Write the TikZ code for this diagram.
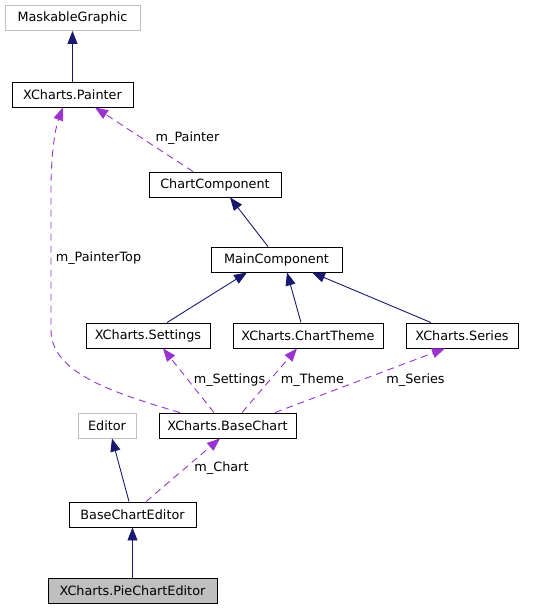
\documentclass[tikz,border=0pt]{standalone}
\usepackage{fontspec}
\setmainfont{DejaVu Sans}
\usetikzlibrary{arrows.meta}
\definecolor{inh}{HTML}{191970}
\definecolor{usec}{HTML}{9A32CD}
\definecolor{extc}{HTML}{BFBFBF}
\begin{document}
\begin{tikzpicture}[x=1pt,y=-1pt,
  font=\fontsize{12.8}{15}\selectfont,
  cls/.style={draw=black, line width=0.9pt, rectangle, minimum height=25pt, inner sep=0pt, anchor=center},
  extcls/.style={cls, draw=extc},
  inhe/.style={draw=inh, line width=0.9pt, -{Triangle[length=13pt,width=10pt]}},
  usee/.style={draw=usec, line width=0.9pt, dash pattern=on 7pt off 5pt, -{Triangle[length=13pt,width=10pt]}},
  lbl/.style={inner sep=0pt, anchor=center}]
\useasboundingbox (0,0) rectangle (544,609);

% nodes
\node[extcls, minimum width=135pt] (mg) at (72.5,18) {MaskableGraphic};
\node[cls, minimum width=121pt] (painter) at (72.5,94.5) {XCharts.Painter};
\node[cls, minimum width=132pt] (cc) at (215,184.5) {ChartComponent};
\node[cls, minimum width=131pt] (mc) at (276.5,259.5) {MainComponent};
\node[cls, minimum width=124pt] (set) at (148,335.5) {XCharts.Settings};
\node[cls, minimum width=150pt] (theme) at (308,335.5) {XCharts.ChartTheme};
\node[cls, minimum width=112pt] (series) at (462,335.5) {XCharts.Series};
\node[extcls, minimum width=58pt] (editor) at (107,425.5) {Editor};
\node[cls, minimum width=137pt] (bc) at (227.5,425.5) {XCharts.BaseChart};
\node[cls, minimum width=127pt] (bce) at (132.5,514.5) {BaseChartEditor};
\node[cls, minimum width=169pt, fill=extc] (pce) at (132.5,590.5) {XCharts.PieChartEditor};

% inheritance
\draw[inhe] (painter.north) -- (mg.south);
\draw[inhe] ([xshift=-8.5pt]mc.north) -- ([xshift=15pt]cc.south);
\draw[inhe] ([xshift=19pt]set.north) -- ([xshift=-29.5pt]mc.south);
\draw[inhe] ([xshift=-7pt]theme.north) -- ([xshift=10.5pt]mc.south);
\draw[inhe] ([xshift=-31pt]series.north) -- ([xshift=35.5pt]mc.south);
\draw[inhe] ([xshift=-3.5pt]bce.north) -- ([xshift=5pt]editor.south);
\draw[inhe] (pce.north) -- (bce.south);

% usage
\draw[usee] ([xshift=-22pt]cc.north) -- ([xshift=22.5pt]painter.south);
\draw[usee] ([xshift=-13.5pt]bc.north) -- ([xshift=15pt]set.south);
\draw[usee] ([xshift=14.5pt]bc.north) -- ([xshift=-11pt]theme.south);
\draw[usee] ([xshift=47.5pt]bc.north) -- ([xshift=-17pt]series.south);
\draw[usee] ([xshift=13.5pt]bce.north) -- ([xshift=-7.5pt]bc.south);
\draw[usee] ([xshift=-47.5pt]bc.north) .. controls (110,392) and (51,372) .. (51,330)
  -- (51,190) .. controls (51,150) and (56,126) .. ([xshift=-9.5pt]painter.south);

% labels
\node[lbl] (lp) at (187.5,138) {m\_Painter};
\node[lbl] (lpt) at (98.5,258) {m\_PainterTop};
\node[lbl] (ls) at (229.5,380) {m\_Settings};
\node[lbl] (lt) at (312.5,380) {m\_Theme};
\node[lbl] (lse) at (415.5,380) {m\_Series};
\node[lbl] (lc) at (221.5,468) {m\_Chart};
\end{tikzpicture}
\end{document}
